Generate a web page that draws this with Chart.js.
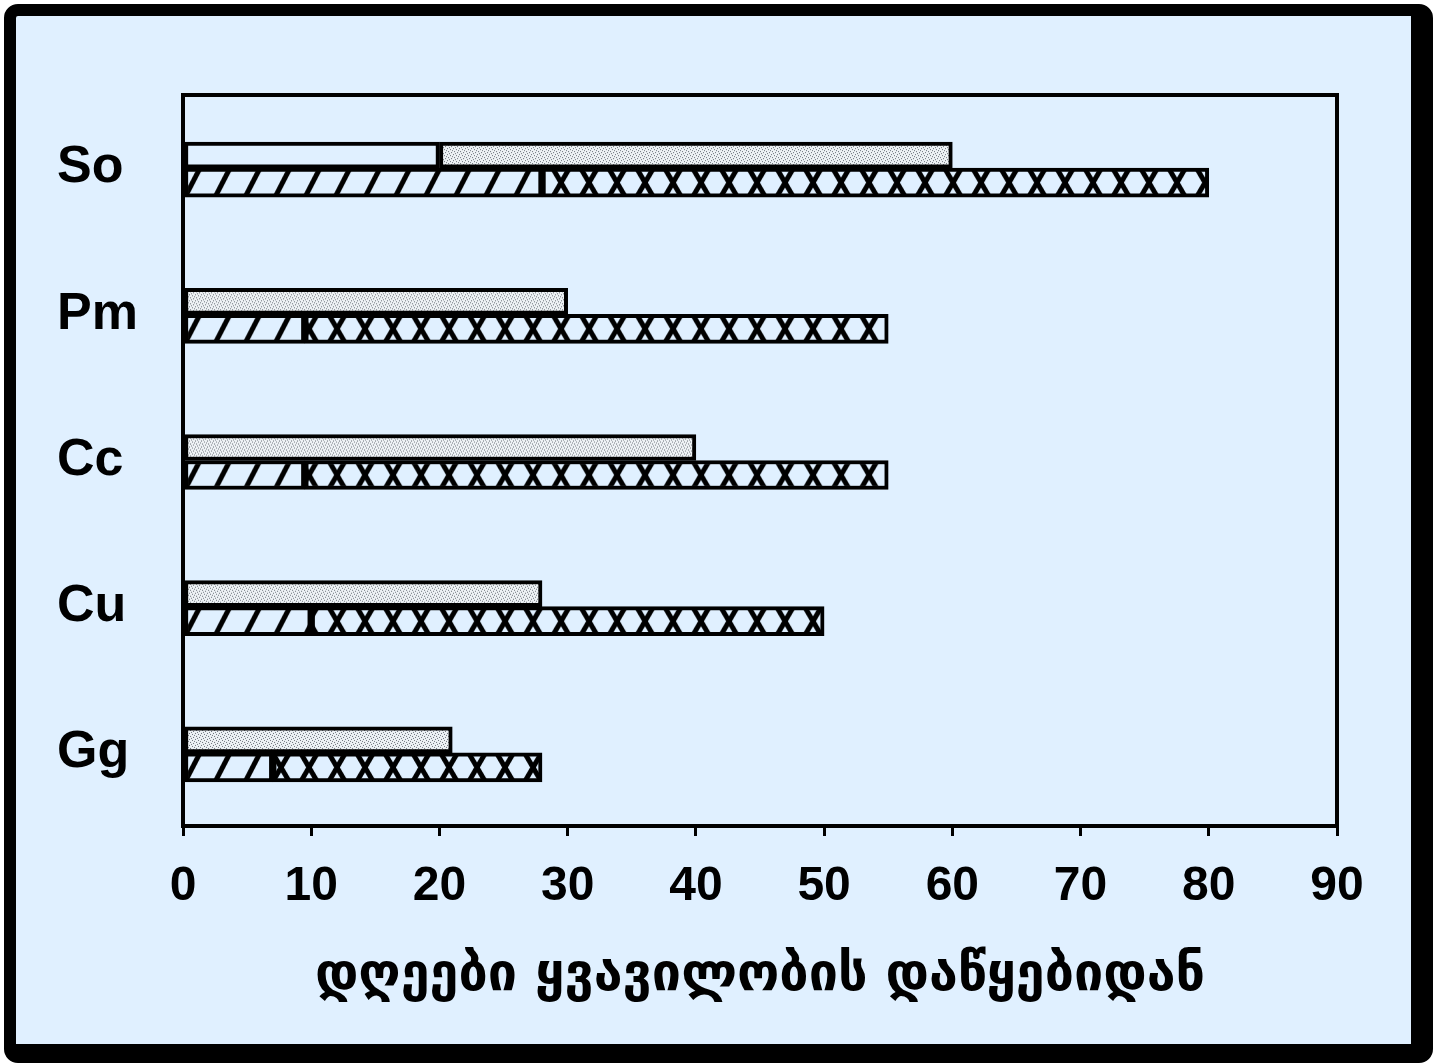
<!DOCTYPE html>
<html>
<head>
<meta charset="utf-8">
<script src="https://cdn.jsdelivr.net/npm/chart.js@4/dist/chart.umd.min.js"></script>
<style>
  html, body { margin: 0; padding: 0; background: #fff; }
  #frame {
    position: absolute; left: 4px; top: 4px;
    width: 1395px; height: 1028px;
    border-style: solid; border-color: #000;
    border-width: 12px 22px 19px 12px;
    border-radius: 14px;
    background: #e0f0ff;
  }
  #wrap { position: absolute; left: 0; top: 0; width: 1440px; height: 1064px; }
</style>
</head>
<body>
<div id="frame"></div>
<div id="wrap"><canvas id="chart" width="1440" height="1064"></canvas></div>
<script>
// species codes, top to bottom
const species = ['So', 'Pm', 'Cc', 'Cu', 'Gg'];

// upper row of each species: [start, end] in days
const plainRange  = [[0, 20], null, null, null, null];
const dottedRange = [[20, 60], [0, 30], [0, 40], [0, 28], [0, 21]];

// lower row of each species
const hatchRange = [[0, 28], [0, 9.5], [0, 9.5], [0, 10], [0, 7]];
const crossRange = [[28, 80], [9.5, 55], [9.5, 55], [10, 50], [7, 28]];

const xTicks = [0, 10, 20, 30, 40, 50, 60, 70, 80, 90];
const xTitle = 'დღეები ყვავილობის დაწყებიდან';

const BG = '#e0f0ff';
const UPPER = 26;
const LOWER = 29;

function tile(w, h, paint) {
  const c = document.createElement('canvas');
  c.width = w; c.height = h;
  const g = c.getContext('2d');
  g.fillStyle = BG;
  g.fillRect(0, 0, w, h);
  paint(g);
  return c;
}

const dotTile = tile(6, 6, g => {
  g.fillStyle = '#eef2f5';
  g.fillRect(0, 0, 6, 6);
  g.fillStyle = '#6c737b';
  [[0, 0], [3, 1], [1, 3], [4, 4], [5, 2], [2, 5]].forEach(([x, y]) => g.fillRect(x, y, 1, 1));
});

const hatchTile = tile(30, LOWER, g => {
  g.strokeStyle = '#000';
  g.lineWidth = 5;
  g.beginPath();
  g.moveTo(1, LOWER + 2); g.lineTo(18, -2);
  g.stroke();
});

const crossTile = tile(28, LOWER, g => {
  g.strokeStyle = '#000';
  g.lineWidth = 5;
  g.beginPath();
  g.moveTo(5, -1); g.lineTo(23, LOWER + 1);
  g.moveTo(23, -1); g.lineTo(5, LOWER + 1);
  g.stroke();
});

// pattern anchored to the top-left of the bar row so every row starts the same way
function rowPattern(src, lower) {
  return ctx => {
    const chart = ctx.chart;
    const xs = chart.scales.x, ys = chart.scales.y;
    const p = chart.ctx.createPattern(src, 'repeat');
    if (!xs || !ys || ctx.dataIndex === undefined) return p;
    const top = ys.getPixelForValue(ctx.dataIndex) - (lower ? 0 : UPPER);
    p.setTransform(new DOMMatrix().translate(xs.getPixelForValue(0), top));
    return p;
  };
}

const plotBox = {
  id: 'plotBox',
  afterDraw(chart) {
    const { ctx, chartArea: a } = chart;
    ctx.save();
    ctx.strokeStyle = '#000';
    ctx.lineWidth = 4;
    ctx.strokeRect(a.left, a.top, a.right - a.left, a.bottom - a.top);
    ctx.restore();
  }
};

const common = { borderColor: '#000', borderWidth: 4, borderSkipped: false };

new Chart(document.getElementById('chart'), {
  type: 'bar',
  data: {
    labels: species,
    datasets: [
      { ...common, label: 'plain', data: plainRange, stack: 'upper', barThickness: UPPER, backgroundColor: BG },
      { ...common, label: 'dotted', data: dottedRange, stack: 'upper', barThickness: UPPER, backgroundColor: rowPattern(dotTile, false) },
      { ...common, label: 'hatched', data: hatchRange, stack: 'lower', barThickness: LOWER, backgroundColor: rowPattern(hatchTile, true) },
      { ...common, label: 'cross', data: crossRange, stack: 'lower', barThickness: LOWER, backgroundColor: rowPattern(crossTile, true) }
    ]
  },
  options: {
    indexAxis: 'y',
    responsive: false,
    animation: false,
    layout: { padding: { top: 95, right: 103, left: 57, bottom: 36 } },
    plugins: { legend: { display: false }, tooltip: { enabled: false } },
    scales: {
      x: {
        stacked: false,
        min: 0,
        max: 90,
        afterFit: s => { s.height = 202; },
        afterBuildTicks: s => { s.ticks = xTicks.map(v => ({ value: v })); },
        border: { display: false },
        grid: { drawOnChartArea: false, drawTicks: true, tickLength: 10, color: '#000', lineWidth: 3 },
        ticks: {
          color: '#000',
          padding: 22,
          maxRotation: 0,
          font: { family: 'Liberation Sans', size: 48, weight: 'bold' }
        },
        title: {
          display: true,
          text: xTitle,
          color: '#000',
          padding: { top: 0, bottom: 20 },
          font: { family: 'DejaVu Sans', size: 52, weight: 'bold' }
        }
      },
      y: {
        afterFit: s => { s.width = 126; },
        border: { display: false },
        grid: { display: false },
        ticks: {
          color: '#000',
          crossAlign: 'far',
          font: { family: 'Liberation Sans', size: 52, weight: 'bold' }
        }
      }
    }
  },
  plugins: [plotBox]
});
</script>
</body>
</html>
